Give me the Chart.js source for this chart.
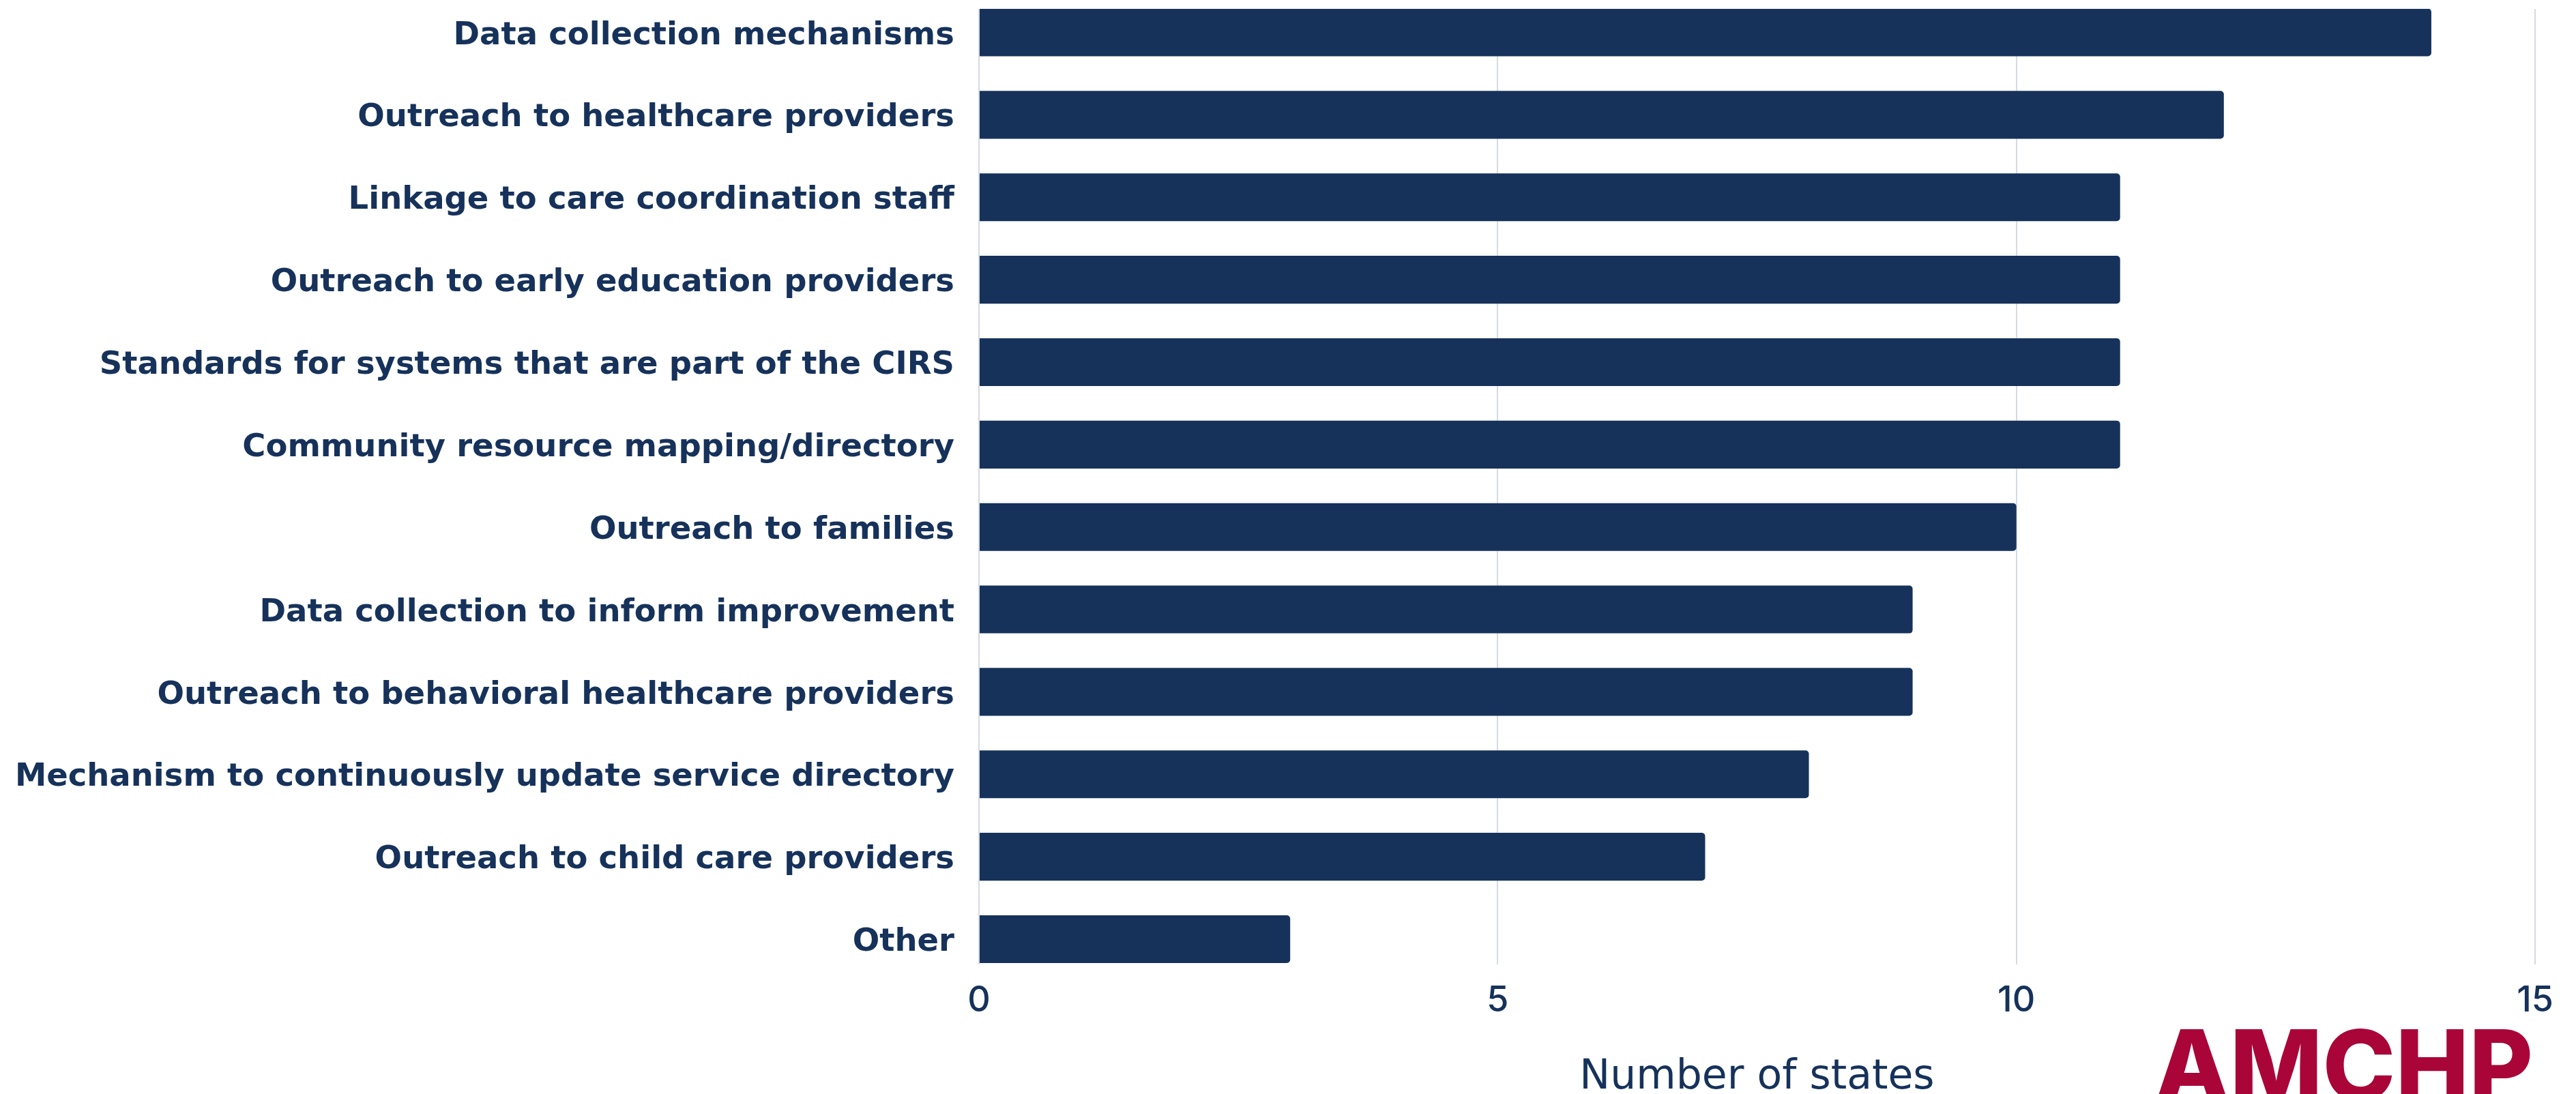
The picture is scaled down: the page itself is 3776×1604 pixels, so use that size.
<!DOCTYPE html>
<html>
<head>
<meta charset="utf-8">
<title>Number of states</title>
<script src="https://cdn.jsdelivr.net/npm/chart.js@4.4.1/dist/chart.umd.min.js"></script>
<style>
  html, body { margin: 0; padding: 0; background: #ffffff; }
  canvas { display: block; }
</style>
</head>
<body>
<canvas id="statesChart" width="3776" height="1604"></canvas>
<script>
// Activities reported, ordered from most to fewest states
const categories = [
  'Data collection mechanisms',
  'Outreach to healthcare providers',
  'Linkage to care coordination staff',
  'Outreach to early education providers',
  'Standards for systems that are part of the CIRS',
  'Community resource mapping/directory',
  'Outreach to families',
  'Data collection to inform improvement',
  'Outreach to behavioral healthcare providers',
  'Mechanism to continuously update service directory',
  'Outreach to child care providers',
  'Other'
];
const stateCounts = [14, 12, 11, 11, 11, 11, 10, 9, 9, 8, 7, 3];
const xTicks = [0, 5, 10, 15];

const NAVY = '#16325b';

// AMCHP wordmark in the lower right corner
const logoText = {
  id: 'logoText',
  afterDraw(chart) {
    const ctx = chart.ctx;
    ctx.save();
    ctx.font = '800 200px Inter';
    const w = ctx.measureText('AMCHP').width;
    const size = 200 * 555 / w;
    ctx.font = `800 ${size}px Inter`;
    const m = ctx.measureText('AMCHP');
    ctx.fillStyle = '#aa0538';
    ctx.textAlign = 'left';
    ctx.textBaseline = 'alphabetic';
    ctx.fillText('AMCHP', 3158, 1508 + m.actualBoundingBoxAscent);
    ctx.restore();
  }
};

const ctx = document.getElementById('statesChart').getContext('2d');
new Chart(ctx, {
  type: 'bar',
  data: {
    datasets: [{
      label: 'Number of states',
      data: stateCounts.map((v, i) => ({ x: v, y: i })),
      backgroundColor: NAVY,
      borderRadius: 5,
      categoryPercentage: 1,
      barPercentage: 0.58
    }]
  },
  options: {
    indexAxis: 'y',
    responsive: false,
    animation: false,
    layout: {
      autoPadding: false,
      padding: { top: 13, right: 60, bottom: 0, left: 0 }
    },
    plugins: {
      legend: { display: false },
      tooltip: { enabled: false }
    },
    scales: {
      x: {
        type: 'linear',
        min: 0,
        max: 15,
        afterBuildTicks: (s) => { s.ticks = xTicks.map(v => ({ value: v })); },
        afterFit: (s) => { s.height = 190; s.paddingLeft = 0; s.paddingRight = 0; },
        grid: { color: '#d5dbe3', lineWidth: 2, drawTicks: false },
        border: { display: false },
        ticks: {
          color: NAVY,
          padding: 22,
          font: { family: 'Inter', size: 52, weight: '500' }
        },
        title: {
          display: true,
          text: 'Number of states',
          color: NAVY,
          padding: 0,
          font: { family: 'DejaVu Sans', size: 60, weight: 'normal', lineHeight: 0.8 }
        }
      },
      y: {
        type: 'linear',
        reverse: true,
        offset: false,
        min: -0.2855,
        max: 11.306,
        // fixed label column; labels sit inside the plot band, so no extra padding
        afterFit: (s) => { s.width = 1435; s.paddingTop = 0; s.paddingBottom = 0; },
        grid: { display: false, offset: false },
        border: { display: false },
        ticks: {
          stepSize: 1,
          autoSkip: false,
          includeBounds: false,
          padding: 28,
          labelOffset: 5,
          color: NAVY,
          font: { family: 'DejaVu Sans', size: 46.5, weight: 'bold' },
          callback: (v) => categories[v]
        }
      }
    }
  },
  plugins: [logoText]
});
</script>
</body>
</html>
